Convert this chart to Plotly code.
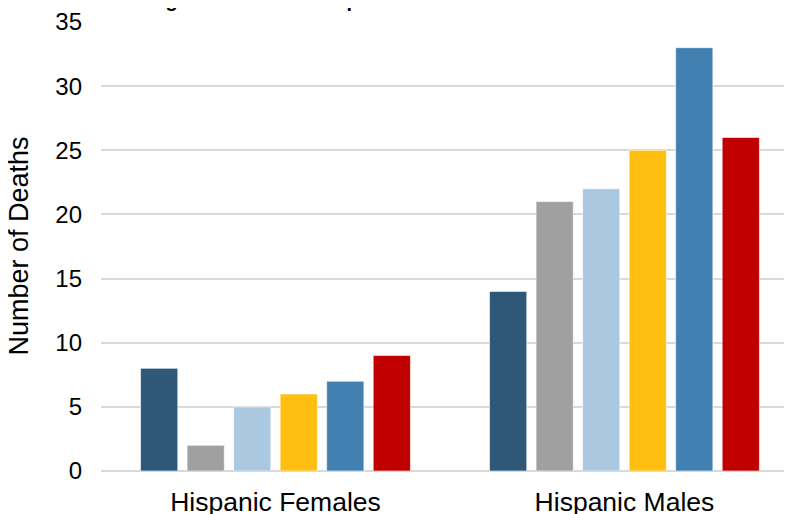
import plotly.graph_objects as go

categories = ["Hispanic Females", "Hispanic Males"]
series_names = ["Series 1", "Series 2", "Series 3", "Series 4", "Series 5", "Series 6"]
series_values = [
    [8, 14],
    [2, 21],
    [5, 22],
    [6, 25],
    [7, 33],
    [9, 26],
]
series_colors = ["#2E5778", "#A0A0A0", "#ABC8E1", "#FFBF10", "#4180B1", "#C00000"]
y_ticks = [0, 5, 10, 15, 20, 25, 30, 35]
title_text = "Drug Overdoses in Hispanic Adults"
y_title = "Number of Deaths"

fig = go.Figure()
for name, vals, col in zip(series_names, series_values, series_colors):
    fig.add_trace(go.Bar(
        x=categories, y=vals, name=name,
        marker=dict(color=col, line=dict(color="rgba(255,255,255,0.6)", width=1)),
    ))

FONT = "Liberation Sans, Arial, sans-serif"
fig.update_layout(
    width=792, height=514,
    margin=dict(l=93, r=0, t=12, b=51),
    paper_bgcolor="white", plot_bgcolor="white",
    barmode="group", bargap=0.2, bargroupgap=0.2,
    showlegend=False,
    font=dict(family=FONT, color="#000000"),
    xaxis=dict(
        type="category", range=[-0.5, 1.503],
        showgrid=False, showline=False, ticks="",
        ticklabelstandoff=12, ticklabeloverflow="allow",
        tickfont=dict(size=26.5, family=FONT, color="#000000"),
    ),
    yaxis=dict(
        range=[0, 35.0001], tickvals=y_ticks,
        showgrid=True, gridcolor="#D9D9D9", gridwidth=2,
        zeroline=True, zerolinecolor="#D9D9D9", zerolinewidth=2,
        showline=False, ticks="",
        ticklabelstandoff=18, ticklabeloverflow="allow",
        tickfont=dict(size=24, family=FONT, color="#000000"),
    ),
    annotations=[
        dict(
            text="<b>" + title_text + "</b>", xref="paper", yref="paper",
            x=(129 - 101) / 699, y=1, xanchor="left", yanchor="middle", yshift=22,
            showarrow=False, font=dict(size=20, family=FONT, color="#000000"),
        ),
        dict(
            text=y_title, xref="paper", yref="paper", x=0, y=0.5,
            xanchor="center", yanchor="middle", xshift=-83, textangle=-90,
            showarrow=False, font=dict(size=27, family=FONT, color="#000000"),
        ),
    ],
)

fig.write_html("out.html")
